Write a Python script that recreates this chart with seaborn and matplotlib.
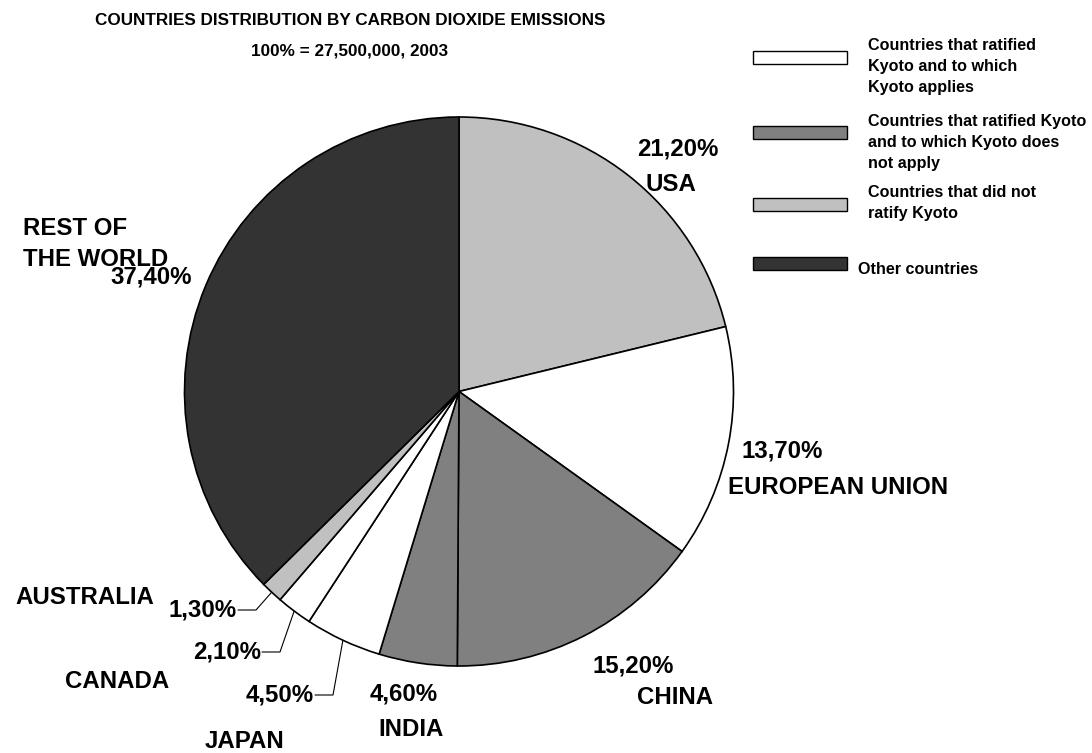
import matplotlib
matplotlib.use("Agg")
import matplotlib.pyplot as plt
from matplotlib.patches import Rectangle
import numpy as np
import seaborn as sns

# Shares of 2003 CO2 emissions, clockwise from the top of the pie
countries = ["USA", "EUROPEAN UNION", "CHINA", "INDIA", "JAPAN", "CANADA",
             "AUSTRALIA", "REST OF\nTHE WORLD"]
shares = [21.2, 13.7, 15.2, 4.6, 4.5, 2.1, 1.3, 37.4]
share_labels = ["21,20%", "13,70%", "15,20%", "4,60%", "4,50%", "2,10%",
                "1,30%", "37,40%"]
kyoto_status = ["not_ratified", "applies", "not_applies", "not_applies",
                "applies", "applies", "not_ratified", "other"]

legend_keys = ["applies", "not_applies", "not_ratified", "other"]
legend_texts = ["Countries that ratified\nKyoto and to which\nKyoto applies",
                "Countries that ratified Kyoto\nand to which Kyoto does\nnot apply",
                "Countries that did not\nratify Kyoto",
                "Other countries"]
status_colors = {"applies": "#FFFFFF", "not_applies": "#808080",
                 "not_ratified": "#C0C0C0", "other": "#333333"}

title_lines = ["COUNTRIES DISTRIBUTION BY CARBON DIOXIDE EMISSIONS",
               "100% = 27,500,000, 2003"]

sns.set_theme(style="white")
plt.rcParams["font.family"] = ["Liberation Sans", "DejaVu Sans"]
plt.rcParams["font.weight"] = "bold"
plt.rcParams["text.color"] = "black"

W, H = 1092, 753
fig = plt.figure(figsize=(W / 100, H / 100), dpi=100)
ax = fig.add_axes([0, 0, 1, 1])

# Work in pixel-like units with y growing downward
cx, cy, r = 459, 391.5, 274.5
colors = [status_colors[s] for s in kyoto_status]
wedges, _ = ax.pie(shares, colors=colors, startangle=-90, counterclock=True,
                   center=(cx, cy), radius=r,
                   wedgeprops=dict(edgecolor="black", linewidth=1.2))
ax.set_xlim(0, W)
ax.set_ylim(H, 0)
ax.set_aspect("equal")
ax.axis("off")

FS = 17.3
TXT = dict(fontsize=FS, fontweight="bold", color="black")
# (percent label centre, name label centre)
label_pos = {
    "USA": ((678, 149), (671, 184)),
    "EUROPEAN UNION": ((782, 451), (838, 487)),
    "CHINA": ((633, 666), (675, 697)),
    "INDIA": ((404, 694), (411, 729)),
}
for name, pct in zip(countries, share_labels):
    if name in label_pos:
        (px, py), (nx, ny) = label_pos[name]
        ax.text(px, py, pct, ha="center", va="center", **TXT)
        ax.text(nx, ny, name, ha="center", va="center", **TXT)

# Small slices: percent label with an elbow leader to the slice edge
leader = {
    "JAPAN": (333, 695, (245, 741)),
    "CANADA": (280, 652, (117, 682)),
    "AUSTRALIA": (256, 610, (85, 598)),
}
for w, name, pct in zip(wedges, countries, share_labels):
    if name in leader:
        ex, ey, (nx, ny) = leader[name]
        mid = np.deg2rad((w.theta1 + w.theta2) / 2)
        sx, sy = cx + r * np.cos(mid), cy + r * np.sin(mid)
        ax.plot([ex - 18, ex, sx], [ey, ey, sy], color="black", lw=0.8)
        ax.text(ex - 19, ey, pct, ha="right", va="center", **TXT)
        ax.text(nx, ny, name, ha="center", va="center", **TXT)

# Rest of the world
rest_lines = countries[-1].split("\n")
for i, line in enumerate(rest_lines):
    ax.text(23, 228 + 31 * i, line, ha="left", va="center", **TXT)
ax.text(151, 277, share_labels[-1], ha="center", va="center", **TXT)

# Title
for i, line in enumerate(title_lines):
    ax.text(350, 20 + 31 * i, line, ha="center", va="center", fontsize=12.3,
            fontweight="bold", color="black")

# Legend
box_y = [51, 126, 198, 257]
text_y = [45, 121, 192, 269]
text_x = [868, 868, 868, 858]
for key, txt, by, ty, tx in zip(legend_keys, legend_texts, box_y, text_y, text_x):
    ax.add_patch(Rectangle((753, by), 94, 13, facecolor=status_colors[key],
                           edgecolor="black", linewidth=1.0))
    for j, line in enumerate(txt.split("\n")):
        ax.text(tx, ty + 21 * j, line, ha="left", va="center", fontsize=11.6,
                fontweight="bold", color="black")

fig.savefig("out.png", dpi=100, facecolor="white")
